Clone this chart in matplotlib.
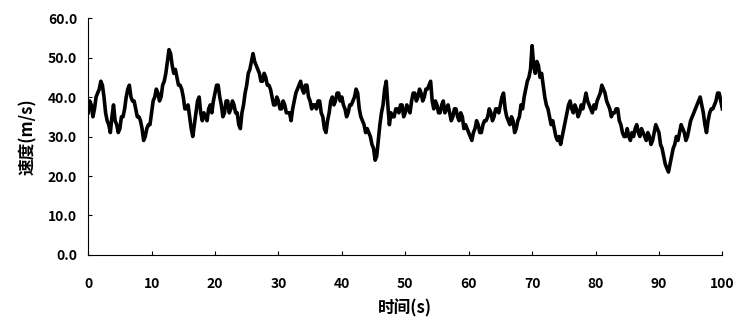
import matplotlib
matplotlib.use("Agg")
import matplotlib.pyplot as plt
import numpy as np

plt.rcParams["font.family"] = ["Noto Sans CJK SC", "DejaVu Sans"]

# 风速时程: 整 0.5 s 处读数
time_step = 0.5
speed = [
    36, 38, 37, 41, 44, 40, 34, 31, 38, 33,
    32, 35, 40, 43, 39, 37, 35, 32, 30, 33,
    36, 40, 41, 40, 44, 49, 51, 46, 45, 43,
    40, 37, 35, 30, 36, 40, 34, 35, 37, 36,
    41, 43, 38, 36, 39, 37, 38, 36, 32, 38,
    43, 47, 51, 48, 46, 44, 45, 43, 40, 38,
    39, 37, 38, 36, 34, 39, 42, 44, 41, 43,
    39, 38, 37, 39, 35, 31, 36, 40, 39, 41,
    40, 37, 36, 38, 40, 41, 35, 33, 32, 30,
    27, 25, 33, 38, 44, 33, 35, 37, 36, 38,
    36, 37, 39, 41, 40, 41, 40, 42, 44, 37,
    38, 36, 39, 37, 36, 35, 37, 34, 35, 33,
    31, 29, 32, 33, 31, 34, 35, 36, 35, 37,
    38, 41, 35, 33, 34, 32, 35, 37, 42, 45,
    53, 46, 48, 46, 40, 37, 33, 32, 29, 28,
    32, 36, 39, 36, 37, 36, 37, 41, 38, 36,
    37, 40, 43, 41, 38, 35, 36, 37, 33, 30,
    32, 29, 30, 33, 30, 31, 29, 30, 29, 33,
    31, 27, 23, 21, 25, 28, 29, 33, 31, 30,
    34, 36, 38, 40, 36, 31, 36, 37, 39, 41,
    37,
]
# 两读数之间 (t + 0.25 s) 的读数
speed_mid = [
    39, 35, 40, 42, 43, 36, 33, 35, 34, 31,
    35, 37, 42, 40, 39, 35, 34, 29, 32, 33,
    39, 42, 39, 43, 46, 52, 48, 47, 43, 42,
    37, 38, 32, 33, 39, 36, 36, 34, 38, 39,
    43, 40, 35, 39, 36, 39, 36, 33, 36, 41,
    46, 49, 49, 47, 44, 46, 43, 42, 38, 40,
    37, 39, 36, 36, 37, 41, 43, 42, 43, 40,
    37, 38, 39, 36, 32, 34, 39, 38, 41, 39,
    38, 35, 38, 39, 42, 37, 34, 31, 31, 28,
    24, 29, 36, 42, 38, 36, 35, 37, 38, 35,
    38, 36, 41, 39, 42, 39, 42, 43, 39, 39,
    36, 38, 36, 38, 34, 37, 35, 36, 32, 32,
    30, 31, 34, 31, 33, 34, 37, 34, 37, 36,
    40, 37, 34, 35, 31, 34, 38, 40, 44, 47,
    48, 49, 45, 43, 38, 35, 34, 30, 30, 30,
    34, 38, 37, 38, 35, 38, 39, 39, 37, 38,
    39, 41, 42, 39, 37, 36, 37, 34, 31, 30,
    30, 31, 32, 31, 32, 30, 31, 28, 31, 32,
    28, 25, 22, 23, 27, 30, 31, 32, 29, 32,
    35, 37, 39, 38, 33, 34, 37, 38, 41, 39,
]

t_main = np.arange(len(speed)) * time_step
t_mid = t_main[:-1] + time_step / 2
t = np.empty(len(speed) + len(speed_mid))
v = np.empty_like(t)
t[0::2], v[0::2] = t_main, speed
t[1::2], v[1::2] = t_mid, speed_mid

y_ticks = [0, 10, 20, 30, 40, 50, 60]
x_ticks = [0, 10, 20, 30, 40, 50, 60, 70, 80, 90, 100]

fig = plt.figure(figsize=(7.47, 3.28), dpi=100)
ax = fig.add_axes([0.118, 0.2226, 0.849, 0.7224])
ax.plot(t, v, color="black", linewidth=2.6)

ax.set_xlim(0, 100)
ax.set_ylim(0, 60)
ax.set_xticks(x_ticks)
ax.set_yticks(y_ticks, [f"{y:.1f}" for y in y_ticks])
ax.tick_params(axis="x", direction="in", length=3, pad=16, labelsize=10)
ax.tick_params(axis="y", direction="in", length=3, pad=8, labelsize=10)
for lab in ax.get_xticklabels() + ax.get_yticklabels():
    lab.set_fontweight("bold")
ax.spines["top"].set_visible(False)
ax.spines["right"].set_visible(False)

ax.set_xlabel("时间(s)", fontsize=12, fontweight="bold", labelpad=6)
ax.set_ylabel("速度(m/s)", fontsize=12, fontweight="bold", labelpad=8)

fig.savefig("out.png", dpi=100)
